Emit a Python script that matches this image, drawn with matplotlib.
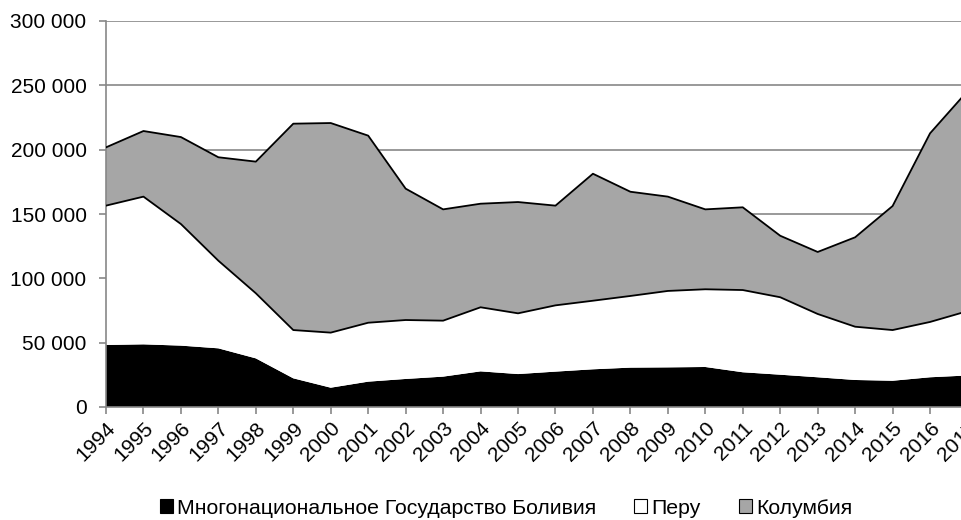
import numpy as np
import matplotlib.pyplot as plt
from matplotlib.patches import Patch

years = list(range(1994, 2018))

# hectares
bolivia = [48200, 48700, 47700, 45600, 37800, 22300, 15000, 19700, 21800, 23600,
           27700, 25600, 27500, 29300, 30600, 30800, 31100, 27000, 25100, 23100,
           21000, 20400, 23100, 24500]
peru = [108300, 114800, 94500, 68100, 50600, 37500, 42800, 45800, 45800, 43500,
        49800, 47200, 51500, 53300, 55700, 59400, 60400, 63900, 60200, 49200,
        41400, 39400, 43000, 50000]
colombia = [45300, 51000, 67600, 80400, 102300, 160400, 162900, 145400, 102100, 86500,
            80500, 86500, 77500, 98700, 81000, 73300, 62100, 64300, 47800, 48200,
            69500, 96400, 146600, 171000]

labels = ["Многонациональное Государство Боливия", "Перу", "Колумбия"]
colors = ["#000000", "#ffffff", "#a6a6a6"]
y_ticks = [0, 50000, 100000, 150000, 200000, 250000, 300000]


def fmt(v):
    return f"{v:,}".replace(",", " ")


def main():
    plt.rcParams["font.family"] = ["Liberation Sans", "DejaVu Sans"]

    fig = plt.figure(figsize=(9.62, 5.2), dpi=100)
    ax = fig.add_axes([106 / 962, 113 / 520, (967.5 - 106) / 962, 386 / 520])

    x = np.arange(len(years))
    ax.stackplot(x, bolivia, peru, colombia, colors=colors,
                 edgecolor="none", linewidth=0, zorder=2)

    # outline lines on the boundaries between layers
    top_b = np.array(bolivia)
    top_p = top_b + np.array(peru)
    top_c = top_p + np.array(colombia)
    ax.plot(x, top_p, color="black", lw=1.3, zorder=3)
    ax.plot(x, top_c, color="black", lw=1.3, zorder=3)

    ax.set_xlim(0, len(years) - 1)
    ax.set_ylim(0, 300000)
    ax.set_yticks(y_ticks)
    ax.set_yticklabels([fmt(v) for v in y_ticks], fontsize=15)
    ax.yaxis.grid(True, color="#878787", lw=1.2, zorder=1)
    ax.set_axisbelow(True)

    ax.set_xticks(x)
    ax.set_xticklabels([str(y) for y in years], rotation=45, ha="right",
                       rotation_mode="anchor", fontsize=15)

    for side in ["top", "right"]:
        ax.spines[side].set_visible(False)
    for side in ["left", "bottom"]:
        ax.spines[side].set_color("#878787")
        ax.spines[side].set_linewidth(1.2)
    ax.tick_params(axis="both", color="#878787", length=5, width=1.2, direction="out")
    ax.tick_params(axis="y", pad=9)
    ax.tick_params(axis="x", pad=3)

    handles = [Patch(facecolor=c, edgecolor="black", lw=0.8) for c in colors]
    fig.legend(handles, labels, loc="center", bbox_to_anchor=(506 / 962, 1 - 508 / 520),
               ncol=3, frameon=False, fontsize=15.3, handlelength=0.6,
               handleheight=0.6, handletextpad=0.2, columnspacing=1.8,
               borderpad=0)

    fig.savefig("out.png", dpi=100)


if __name__ == "__main__":
    main()
